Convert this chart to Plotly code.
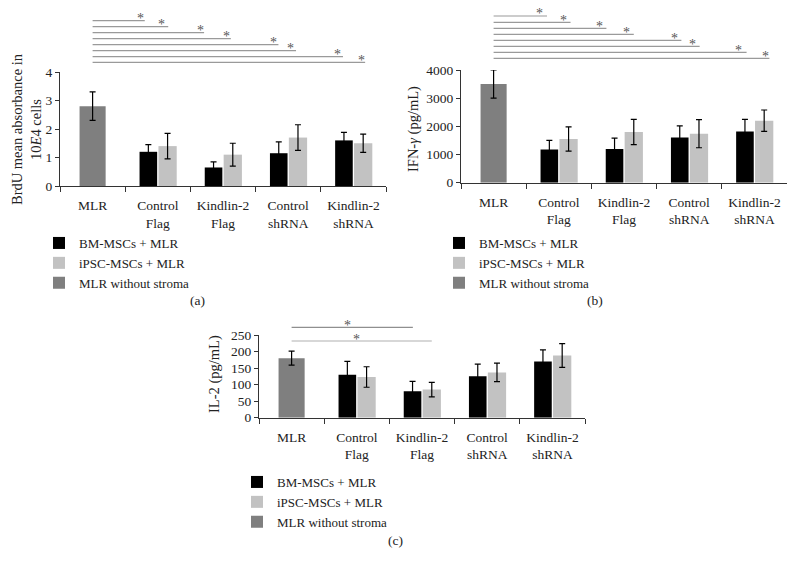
import plotly.graph_objects as go

W, H = 796, 566

categories = ["MLR", "Control<br>Flag", "Kindlin-2<br>Flag", "Control<br>shRNA", "Kindlin-2<br>shRNA"]
groups = categories[1:]
series_names = ["BM-MSCs + MLR", "iPSC-MSCs + MLR", "MLR without stroma"]

# (a) BrdU
brdu_mlr = [2.8]
brdu_mlr_err = [0.5]
brdu_bm = [1.2, 0.65, 1.15, 1.6]
brdu_bm_err = [0.25, 0.2, 0.4, 0.28]
brdu_ipsc = [1.4, 1.1, 1.7, 1.5]
brdu_ipsc_err = [0.45, 0.4, 0.45, 0.32]

# (b) IFN-gamma
ifn_mlr = [3500]
ifn_mlr_err = [500]
ifn_bm = [1180, 1200, 1600, 1820]
ifn_bm_err = [320, 380, 420, 430]
ifn_ipsc = [1550, 1800, 1740, 2200]
ifn_ipsc_err = [430, 450, 500, 380]

# (c) IL-2
il2_mlr = [180]
il2_mlr_err = [21]
il2_bm = [130, 80, 125, 170]
il2_bm_err = [40, 30, 37, 35]
il2_ipsc = [123, 85, 137, 188]
il2_ipsc_err = [31, 22, 28, 36]

# significance brackets (end in category units, row in px from top)
sig_a_end = [0.80, 1.16, 1.71, 2.12, 2.85, 3.12, 3.84, 4.18]
sig_a_star = [0.73, 1.06, 1.65, 2.06, 2.77, 3.04, 3.76, 4.13]
sig_a_row = [20.7, 26.7, 32.7, 38.7, 44.7, 50.7, 56.7, 62.3]

sig_b_end = [0.82, 1.18, 1.73, 2.15, 2.88, 3.16, 3.88, 4.23]
sig_b_star = [0.70, 1.07, 1.62, 2.04, 2.77, 3.05, 3.76, 4.17]
sig_b_row = [16.0, 22.3, 28.3, 34.3, 40.3, 46.3, 52.3, 58.3]

sig_c_end = [1.86, 2.15]
sig_c_star = [0.85, 1.0]
sig_c_row = [327.3, 341.0]
sig_c_color = ["#8f8f8f", "#b0b0b0"]

BLACK = "#000000"
LIGHT = "#c2c2c2"
DARK = "#7f7f7f"
SERIF = "Liberation Serif"


def px_x(p):
    return p / W


def px_y(p):
    return 1 - p / H


fig = go.Figure()

panels = [
    dict(ax="", leg="legend", mlr=brdu_mlr, mlre=brdu_mlr_err, bm=brdu_bm, bme=brdu_bm_err,
         ip=brdu_ipsc, ipe=brdu_ipsc_err),
    dict(ax="2", leg="legend2", mlr=ifn_mlr, mlre=ifn_mlr_err, bm=ifn_bm, bme=ifn_bm_err,
         ip=ifn_ipsc, ipe=ifn_ipsc_err),
    dict(ax="3", leg="legend3", mlr=il2_mlr, mlre=il2_mlr_err, bm=il2_bm, bme=il2_bm_err,
         ip=il2_ipsc, ipe=il2_ipsc_err),
]

for p in panels:
    xa, ya = "x" + p["ax"], "y" + p["ax"]
    err = lambda arr: dict(type="data", array=arr, color="black", thickness=1.2, width=3)
    fig.add_trace(go.Bar(x=groups, y=p["bm"], error_y=err(p["bme"]), name=series_names[0],
                         marker=dict(color=BLACK, line=dict(width=0)), offset=-0.28, width=0.27,
                         xaxis=xa, yaxis=ya, legend=p["leg"]))
    fig.add_trace(go.Bar(x=groups, y=p["ip"], error_y=err(p["ipe"]), name=series_names[1],
                         marker=dict(color=LIGHT, line=dict(width=0)), offset=0.01, width=0.28,
                         xaxis=xa, yaxis=ya, legend=p["leg"]))
    fig.add_trace(go.Bar(x=categories[:1], y=p["mlr"], error_y=err(p["mlre"]), name=series_names[2],
                         marker=dict(color=DARK, line=dict(width=0)), offset=-0.2, width=0.4,
                         xaxis=xa, yaxis=ya, legend=p["leg"]))

tickfont = dict(family=SERIF, size=13.5, color="#222")
xcommon = dict(type="category", categoryorder="array", categoryarray=categories,
               range=[-0.5, 4.5], showline=True, linecolor="#333", linewidth=1,
               ticks="outside", tickson="boundaries", ticklen=5, tickcolor="#333",
               showgrid=False, zeroline=False, tickfont=tickfont, fixedrange=True,
               automargin=False, ticklabelstandoff=7)
ycommon = dict(showline=True, linecolor="#333", linewidth=1, ticks="outside", ticklen=4,
               tickcolor="#333", showgrid=False, zeroline=False, tickfont=tickfont,
               automargin=False, fixedrange=True)

layout = dict(
    width=W, height=H, margin=dict(l=0, r=0, t=0, b=0, autoexpand=False),
    paper_bgcolor="white", plot_bgcolor="white", barmode="overlay",
    font=dict(family=SERIF, size=13.5, color="#222"),
    xaxis=dict(domain=[px_x(60), px_x(386)], anchor="y", **xcommon),
    yaxis=dict(domain=[px_y(186), px_y(72)], anchor="x", range=[0, 4], dtick=1, **ycommon),
    xaxis2=dict(domain=[px_x(461), px_x(787)], anchor="y2", **xcommon),
    yaxis2=dict(domain=[px_y(182.7), px_y(70)], anchor="x2", range=[0, 4000], dtick=1000, **ycommon),
    xaxis3=dict(domain=[px_x(259), px_x(585)], anchor="y3", **xcommon),
    yaxis3=dict(domain=[px_y(417.7), px_y(335)], anchor="x3", range=[0, 250], dtick=50, **ycommon),
    showlegend=True,
)
legfont = dict(family=SERIF, size=13, color="#222")
for name, lx, ly in [("legend", 39, 228), ("legend2", 439, 228), ("legend3", 237, 467)]:
    layout[name] = dict(x=px_x(lx), y=px_y(ly), xanchor="left", yanchor="top",
                        bgcolor="rgba(0,0,0,0)", font=legfont, tracegroupgap=0,
                        itemclick=False, itemdoubleclick=False)
fig.update_layout(**layout)

shapes = []
annotations = []
sig_sets = [("x", sig_a_end, sig_a_star, sig_a_row, ["#9a9a9a"] * 8),
            ("x2", sig_b_end, sig_b_star, sig_b_row, ["#9a9a9a"] * 8),
            ("x3", sig_c_end, sig_c_star, sig_c_row, sig_c_color)]
for xref, ends, stars, rows, cols in sig_sets:
    for e, s, r, c in zip(ends, stars, rows, cols):
        shapes.append(dict(type="line", xref=xref, yref="paper", x0=0, x1=e,
                           y0=px_y(r), y1=px_y(r), line=dict(color=c, width=1.2)))
        annotations.append(dict(xref=xref, yref="paper", x=s, y=px_y(r - 2), text="*",
                                showarrow=False, xanchor="center", yanchor="middle",
                                font=dict(family=SERIF, size=14, color="#555")))

# y-axis titles
ytitles = [("BrdU mean absorbance in<br>10<i>E</i>4 cells", 26, 129),
           ("IFN-<i>γ</i> (pg/mL)", 413, 129),
           ("IL-2 (pg/mL)", 214, 374)]
for t, x, y in ytitles:
    annotations.append(dict(xref="paper", yref="paper", x=px_x(x), y=px_y(y), textangle=-90,
                            text=t, showarrow=False, xanchor="center", yanchor="middle",
                            font=dict(family=SERIF, size=14.5, color="#222")))
# panel labels
for t, x, y in [("(a)", 197, 300), ("(b)", 595, 300), ("(c)", 395, 540)]:
    annotations.append(dict(xref="paper", yref="paper", x=px_x(x), y=px_y(y), text=t,
                            showarrow=False, xanchor="center", yanchor="middle",
                            font=dict(family=SERIF, size=13.5, color="#222")))

fig.update_layout(shapes=shapes, annotations=annotations)
fig.write_html("out.html", config={"displayModeBar": False},
               post_script="document.body.style.margin='0px';")
